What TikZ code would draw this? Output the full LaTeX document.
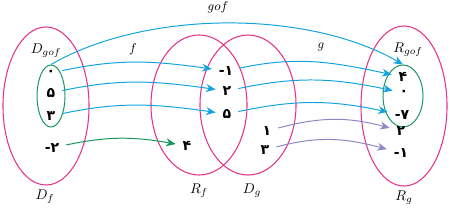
\documentclass[tikz,border=0pt]{standalone}
\usepackage{fontspec}
\usepackage{tikz}
\usetikzlibrary{arrows.meta,shapes.geometric}
\newfontfamily\fadigits{DejaVu Sans}
\definecolor{setpink}{HTML}{E4338A}
\definecolor{mapblue}{HTML}{12A3DF}
\definecolor{mapgreen}{HTML}{16965A}
\definecolor{mappurple}{HTML}{8C86C2}
\tikzset{
  bigset/.style ={ellipse,draw=setpink,line width=0.75pt,inner sep=0pt},
  subset/.style ={ellipse,draw=mapgreen,line width=0.7pt,inner sep=0pt},
  dig/.style    ={font=\fadigits\bfseries,inner sep=1pt,outer sep=4pt},
  setlbl/.style ={font=\normalsize},
  fnlbl/.style  ={font=\small},
  bluemap/.style={-{Stealth[length=2.4mm,width=2mm]},line width=0.7pt,draw=mapblue},
  greenmap/.style={-{Stealth[length=2.4mm,width=2mm]},line width=0.7pt,draw=mapgreen},
  purplemap/.style={-{Stealth[length=2.4mm,width=2mm]},line width=0.7pt,draw=mappurple}
}
\begin{document}
\begin{tikzpicture}[x=0.025cm,y=-0.025cm]
  \useasboundingbox (0,0) rectangle (451,208);
  % sets
  \node[bigset,minimum width=2.15cm,minimum height=3.95cm] (df) at (46,106) {};
  \node[subset,minimum width=0.7cm,minimum height=1.55cm] (dgof) at (51,96) {};
  \node[bigset,minimum width=2.4cm,minimum height=3.5cm] (rf) at (199,105) {};
  \node[bigset,minimum width=2.4cm,minimum height=3.5cm] (dg) at (248,105) {};
  \node[bigset,minimum width=2.15cm,minimum height=4cm] (rg) at (404,106) {};
  \node[subset,minimum width=1cm,minimum height=1.55cm] (rgof) at (403,96) {};
  % labels
  \node[setlbl] (ldgof) at (46,51) {$D_{gof}$};
  \node[setlbl] (ldf) at (45,197) {$D_f$};
  \node[setlbl] (lrf) at (199,191) {$R_f$};
  \node[setlbl] (ldg) at (252,191) {$D_g$};
  \node[setlbl] (lrgof) at (408,50) {$R_{gof}$};
  \node[setlbl] (lrg) at (404,198) {$R_g$};
  \node[fnlbl] (lf) at (133,49) {$f$};
  \node[fnlbl] (lg) at (321,47) {$g$};
  \node[fnlbl] (lgof) at (218,7) {$gof$};
  % elements of D_f
  \node[dig] (x0) at (51,73) {۰};
  \node[dig] (x5) at (51,93) {۵};
  \node[dig] (x3) at (51,116) {۳};
  \node[dig] (xm2) at (52,148) {-۲};
  % elements of R_f and D_g
  \node[dig] (ym1) at (226,71) {-۱};
  \node[dig] (y2) at (227,91) {۲};
  \node[dig] (y5) at (227,114) {۵};
  \node[dig] (y4) at (187,146) {۴};
  \node[dig] (y1) at (267,131) {۱};
  \node[dig] (y3) at (265,150) {۳};
  % elements of R_g
  \node[dig] (z4) at (403,77) {۴};
  \node[dig] (z0) at (404,93) {۰};
  \node[dig] (zm7) at (402,115) {-۷};
  \node[dig] (z2) at (401,131) {۲};
  \node[dig] (zm1) at (401,153) {-۱};
  % f
  \draw[bluemap] (x0) to[out=12,in=172] (ym1);
  \draw[bluemap] (x5) to[out=12,in=172] (y2);
  \draw[bluemap] (x3) to[out=12,in=172] (y5);
  \draw[greenmap] (xm2) to[out=12,in=170] (y4);
  % g
  \draw[bluemap] (ym1) to[out=12,in=168] (z4);
  \draw[bluemap] (y2) to[out=12,in=168] (z0);
  \draw[bluemap] (y5) to[out=12,in=168] (zm7);
  \draw[purplemap] (y1) to[out=15,in=165] (z2);
  \draw[purplemap] (y3) to[out=15,in=165] (zm1);
  % gof
  \draw[bluemap] (dgof.north) to[out=30,in=150,looseness=0.8] (rgof.north);
\end{tikzpicture}
\end{document}
